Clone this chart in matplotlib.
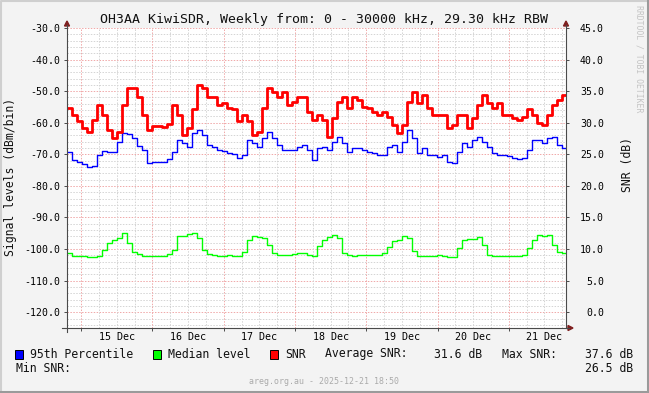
import numpy as np
import pandas as pd
import matplotlib
matplotlib.use("Agg")
import matplotlib.pyplot as plt
from matplotlib.patches import Rectangle, Polygon

plt.rcParams['font.family'] = 'DejaVu Sans Mono'

# one sample every ~101 minutes, 14 Dec 19:15 -> 21 Dec 19:15
start = pd.Timestamp("2025-12-14 19:15")
end = pd.Timestamp("2025-12-21 19:15")

# 95th percentile (dBm/bin)
p95 = [-69.2, -71.7, -72.4, -73.0, -73.9, -73.6, -70.1, -68.9, -69.2, -69.2,
       -66.0, -63.2, -63.5, -64.8, -67.3, -68.6, -72.7, -72.4, -72.4, -72.4,
       -71.4, -69.2, -65.4, -66.3, -67.6, -63.2, -62.2, -63.8, -67.0, -67.6,
       -68.6, -68.9, -69.5, -69.8, -71.1, -70.1, -65.4, -66.3, -67.6, -64.8,
       -62.9, -64.8, -67.0, -68.6, -68.6, -68.6, -67.6, -67.0, -68.6, -71.7,
       -67.9, -67.6, -68.6, -66.0, -64.4, -66.3, -69.2, -67.9, -67.9, -68.6,
       -69.2, -69.5, -70.1, -70.1, -67.6, -67.0, -69.2, -66.0, -62.2, -64.8,
       -69.5, -67.9, -70.1, -70.1, -70.8, -70.1, -72.4, -72.7, -69.2, -66.3,
       -67.6, -65.4, -64.4, -66.0, -67.6, -69.5, -70.1, -70.1, -70.5, -71.1,
       -71.4, -71.1, -68.6, -65.4, -65.4, -66.3, -64.8, -64.4, -67.0, -67.9,
       -65.4]

# median level (dBm/bin)
median = [-101.3, -102.1, -102.1, -102.2, -102.5, -102.4, -102.1, -100.2, -98.1, -97.1,
          -96.5, -95.0, -98.1, -100.8, -101.6, -102.2, -102.1, -102.1, -102.1, -102.2,
          -101.6, -100.2, -96.0, -95.8, -95.3, -95.0, -96.5, -100.2, -101.6, -101.8,
          -102.1, -102.2, -101.8, -102.1, -102.1, -100.8, -97.1, -96.0, -96.3, -96.5,
          -98.7, -101.3, -101.8, -101.8, -101.8, -101.6, -101.3, -101.3, -101.8, -102.1,
          -99.0, -97.1, -96.3, -95.5, -96.5, -101.3, -101.8, -102.1, -101.8, -101.8,
          -101.8, -101.8, -101.8, -101.3, -99.2, -97.4, -97.1, -96.0, -96.5, -100.6,
          -102.2, -102.2, -102.1, -102.1, -101.8, -102.1, -102.4, -102.4, -99.7, -97.1,
          -96.8, -96.8, -96.3, -98.7, -101.8, -102.1, -102.1, -102.1, -102.1, -102.1,
          -102.1, -101.8, -99.7, -97.1, -95.5, -96.0, -95.5, -98.7, -100.8, -101.3,
          -101.3]

# SNR (dB), right axis
snr = [32.4, 31.3, 30.2, 29.2, 28.6, 30.5, 32.8, 31.3, 28.9, 27.6,
       28.6, 32.8, 35.5, 35.5, 34.1, 31.3, 28.9, 29.5, 29.5, 29.4,
       29.8, 32.8, 31.3, 28.1, 29.2, 32.1, 36.0, 35.5, 34.0, 34.1,
       32.8, 33.2, 32.4, 32.1, 30.2, 31.3, 30.2, 28.1, 28.6, 32.4,
       35.5, 34.9, 34.0, 34.9, 32.8, 33.3, 34.0, 34.0, 31.7, 30.5,
       31.3, 30.5, 27.8, 30.8, 33.3, 34.0, 32.4, 34.0, 33.6, 32.5,
       32.4, 31.7, 31.3, 31.7, 30.9, 29.7, 28.4, 29.7, 33.3, 34.9,
       33.2, 34.4, 32.4, 31.3, 31.3, 31.3, 29.2, 29.7, 31.3, 31.3,
       29.2, 30.8, 32.8, 34.4, 33.2, 32.4, 33.2, 31.3, 31.3, 30.8,
       30.5, 30.9, 32.1, 31.3, 30.0, 29.7, 31.3, 32.8, 33.6, 34.4,
       35.5]

times = pd.date_range(start, periods=len(snr), freq="101min").values

day_labels = ["15 Dec", "16 Dec", "17 Dec", "18 Dec", "19 Dec", "20 Dec", "21 Dec"]

W, H = 649, 393
L, R, T, B = 67, 566, 28, 328
AXC = "#4a4a4a"
ARROW = "#7f1f1f"
MAJ = "#f0a8a8"
MIN = "#d4d4d4"

fig = plt.figure(figsize=(W / 100, H / 100), dpi=100, facecolor="#f3f3f3")
ax = fig.add_axes([L / W, 1 - B / H, (R - L) / W, (B - T) / H])
ax.set_facecolor("white")
for s in ax.spines.values():
    s.set_visible(False)

ax.set_xlim(start.to_datetime64(), end.to_datetime64())
ax.set_ylim(-125, -30)

# grid
for v in np.arange(-124, -29, 2):
    ax.axhline(v, color=MAJ if v % 10 == 0 else MIN, lw=0.7,
               ls=(0, (1.5, 1.5)), zorder=1)
for t in pd.date_range("2025-12-15 00:00", "2025-12-21 18:00", freq="6h"):
    ax.axvline(t.to_datetime64(), color=MAJ if t.hour == 0 else MIN, lw=0.7,
               ls=(0, (1.5, 1.5)), zorder=1)

ax.step(times, p95, where="post", color="#0000ff", lw=1.0, zorder=3)
ax.step(times, median, where="post", color="#00ff00", lw=1.0, zorder=3)

ax.set_yticks(np.arange(-120, -29, 10))
ax.set_yticklabels([f"{v:.1f}" for v in np.arange(-120, -29, 10)])
ax.tick_params(axis="y", length=2.2, width=0.7, color=AXC, pad=2.9, labelsize=7.1)

noons = pd.date_range("2025-12-15 12:00", periods=7, freq="D").values
ax.set_xticks(noons)
ax.set_xticklabels(day_labels)
ax.set_xticks(pd.date_range("2025-12-15", periods=7, freq="D").values, minor=True)
ax.tick_params(axis="x", which="major", length=0, pad=3.2, labelsize=7.2)
ax.tick_params(axis="x", which="minor", length=2.2, width=0.7, color=AXC)

ax2 = ax.twinx()
for s in ax2.spines.values():
    s.set_visible(False)
ax2.set_ylim(-2.5, 45)
ax2.step(times, snr, where="post", color="#ff0000", lw=2.0, zorder=4)
ax2.set_yticks(np.arange(0, 46, 5))
ax2.set_yticklabels([f"{v:.1f}" for v in np.arange(0, 46, 5)], ha="right")
ax2.tick_params(axis="y", length=2.2, width=0.7, color=AXC, pad=25.2, labelsize=7.1)

# overlay for frame, axis arrows, legend and texts (pixel coordinates)
ov = fig.add_axes([0, 0, 1, 1])
ov.set_xlim(0, W)
ov.set_ylim(H, 0)
ov.axis("off")

ov.plot([1, 1, W - 1], [H - 1, 1, 1], color="#cfcfcf", lw=1.5)
ov.plot([1, W - 1.5, W - 1.5], [H - 1.5, H - 1.5, 1], color="#9a9a9a", lw=2.2)

ov.plot([L, L], [B + 4, T - 3], color=AXC, lw=0.8)
ov.plot([R, R], [B, T - 3], color=AXC, lw=0.8)
ov.plot([L - 5, R + 3], [B, B], color=AXC, lw=0.8)
ov.add_patch(Polygon([[L - 2.5, T - 2], [L + 2.5, T - 2], [L, T - 7]], color=ARROW))
ov.add_patch(Polygon([[R - 2.5, T - 2], [R + 2.5, T - 2], [R, T - 7]], color=ARROW))
ov.add_patch(Polygon([[R + 2, B - 2.5], [R + 2, B + 2.5], [R + 7, B]], color=ARROW))

ov.text(324, 19.5, "OH3AA KiwiSDR, Weekly from: 0 - 30000 kHz, 29.30 kHz RBW",
        ha="center", va="center", fontsize=9.55, color="#111111")
ov.text(10.5, 177, "Signal levels (dBm/bin)", rotation=90, ha="center", va="center",
        fontsize=8.3, color="#111111")
ov.text(628, 164, "SNR (dB)", rotation=90, ha="center", va="center",
        fontsize=8.3, color="#111111")
ov.text(639, 59, "RRDTOOL / TOBI OETIKER", rotation=270, ha="center", va="center",
        fontsize=5.9, color="#c4c4c4")
ov.text(324, 382, "areg.org.au - 2025-12-21 18:50", ha="center", va="center",
        fontsize=5.95, color="#aaaaaa")

# legend
for x0, col, lab in [(15, "#0000ff", "95th Percentile"),
                     (153, "#00ff00", "Median level"),
                     (270, "#ff0000", "SNR")]:
    ov.add_patch(Rectangle((x0, 349.5), 8, 9, facecolor=col, edgecolor="black", lw=0.7))
    ov.text(x0 + 15, 354, lab, ha="left", va="center", fontsize=8.3, color="#111111")

ov.text(325, 354, "Average SNR:", ha="left", va="center", fontsize=8.3, color="#111111")
ov.text(482.5, 354, "31.6 dB", ha="right", va="center", fontsize=8.3, color="#111111")
ov.text(502, 354, "Max SNR:", ha="left", va="center", fontsize=8.3, color="#111111")
ov.text(633, 354, "37.6 dB", ha="right", va="center", fontsize=8.3, color="#111111")
ov.text(16, 368, "Min SNR:", ha="left", va="center", fontsize=8.3, color="#111111")
ov.text(633, 368, "26.5 dB", ha="right", va="center", fontsize=8.3, color="#111111")

fig.savefig("out.png", dpi=100, facecolor=fig.get_facecolor())
